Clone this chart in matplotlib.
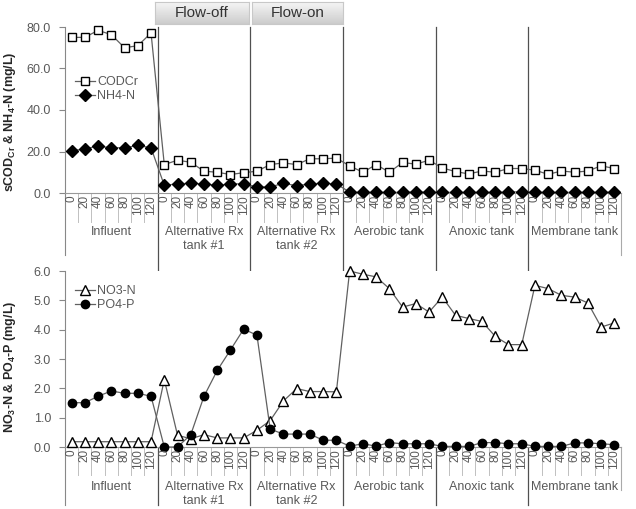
import matplotlib.pyplot as plt
import matplotlib.transforms as mtransforms
import numpy as np

plt.rcParams['font.family'] = ['Liberation Sans', 'DejaVu Sans']
plt.rcParams['mathtext.fontset'] = 'custom'
plt.rcParams['mathtext.rm'] = 'Liberation Sans:bold'
plt.rcParams['mathtext.default'] = 'rm'

# sampling times (min) within each unit, and the units
times = ['0', '20', '40', '60', '80', '100', '120']
groups = ['Influent', 'Alternative Rx\ntank #1', 'Alternative Rx\ntank #2',
          'Aerobic tank', 'Anoxic tank', 'Membrane tank']
flow_labels = ['Flow-off', 'Flow-on']

codcr = [75.0, 75.0, 78.4, 76.3, 70.0, 71.0, 77.1,
         13.7, 15.8, 14.8, 10.5, 10.0, 8.9, 9.8,
         10.5, 13.7, 14.5, 13.7, 16.5, 16.5, 16.8,
         13.1, 10.0, 13.7, 10.0, 14.7, 13.9, 15.8,
         12.1, 10.3, 9.2, 10.6, 10.0, 11.8, 11.8,
         11.0, 9.0, 10.6, 10.0, 10.6, 13.1, 11.8]
nh4 = [20.3, 21.3, 22.6, 21.8, 21.8, 22.9, 21.8,
       3.7, 4.4, 4.7, 4.4, 3.7, 4.4, 4.4,
       2.9, 2.9, 4.7, 3.5, 4.4, 4.7, 4.4,
       0.4, 0.3, 0.3, 0.3, 0.3, 0.5, 0.4,
       0.3, 0.3, 0.3, 0.3, 0.3, 0.4, 0.6,
       0.3, 0.3, 0.3, 0.3, 0.3, 0.4, 0.3]
no3 = [0.18, 0.18, 0.18, 0.18, 0.18, 0.18, 0.18,
       2.3, 0.4, 0.28, 0.42, 0.31, 0.31, 0.31,
       0.57, 0.9, 1.57, 1.99, 1.89, 1.89, 1.88,
       6.0, 5.89, 5.8, 5.4, 4.77, 4.89, 4.6,
       5.11, 4.49, 4.38, 4.28, 3.77, 3.49, 3.49,
       5.51, 5.4, 5.17, 5.11, 4.91, 4.09, 4.23]
po4 = [1.51, 1.51, 1.73, 1.91, 1.83, 1.83, 1.73,
       0.0, 0.0, 0.42, 1.73, 2.61, 3.31, 4.02,
       3.81, 0.61, 0.44, 0.44, 0.44, 0.23, 0.23,
       0.03, 0.11, 0.03, 0.15, 0.11, 0.11, 0.11,
       0.02, 0.02, 0.02, 0.15, 0.15, 0.11, 0.11,
       0.02, 0.02, 0.02, 0.14, 0.14, 0.11, 0.08]

W, H = 636, 509
X0, X1 = 65, 621
GRAY = '#595959'
LINE = '#606060'

fig = plt.figure(figsize=(W / 100, H / 100), dpi=100)


def fx(px):
    return px / W


def fy(py):
    return 1 - py / H


nt = len(times)
ncat = nt * len(groups)
x = np.arange(ncat)


def panel(ptop, pbot, ymax, step, series, label_y, leg_top,
          cell_end, axis_end, right_end):
    ax = fig.add_axes([fx(X0), fy(pbot), fx(X1) - fx(X0), fy(ptop) - fy(pbot)])
    for vals, mk, ms, filled, name in series:
        ax.plot(x, vals, color=LINE, lw=0.9, marker=mk, ms=ms,
                mfc='black' if filled else 'white', mec='black', mew=1.0,
                label=name, clip_on=False, zorder=3)
    ax.set_xlim(-0.5, ncat - 0.5)
    ax.set_ylim(0, ymax)
    ticks = np.arange(0, ymax + step / 2, step)
    ax.set_yticks(ticks)
    ax.set_yticklabels([f'{v:.1f}' for v in ticks])
    ax.tick_params(axis='y', length=4, width=0.8, color='#888888', pad=6,
                   labelsize=9, labelcolor=GRAY)
    ax.set_xticks([])
    for s in ['top', 'right', 'left']:
        ax.spines[s].set_visible(False)
    ax.spines['bottom'].set_color('#999999')
    ax.spines['bottom'].set_linewidth(0.8)

    tr = mtransforms.blended_transform_factory(ax.transData, fig.transFigure)
    # left axis line, running down through the category labels
    ax.plot([-0.5, -0.5], [fy(ptop), fy(axis_end)], transform=tr, color='#888888',
            lw=0.8, clip_on=False)
    ax.plot([ncat - 0.5, ncat - 0.5], [fy(pbot), fy(right_end)], transform=tr,
            color='#aaaaaa', lw=0.8, clip_on=False)
    for k in range(ncat - 1):
        if (k + 1) % nt:
            ax.plot([k + 0.5, k + 0.5], [fy(pbot), fy(cell_end)], transform=tr,
                    color='#c0c0c0', lw=0.7, clip_on=False)
    for k in range(ncat):
        ax.text(k, fy(pbot + 2), times[k % nt], transform=tr, rotation=90,
                ha='center', va='top', fontsize=8.5, color=GRAY)
    for g, name in enumerate(groups):
        xc = g * nt + (nt - 1) / 2
        for j, line in enumerate(name.split('\n')):
            ax.text(xc, fy(label_y + 14 * j), line, transform=tr, ha='center',
                    va='center', fontsize=9, color=GRAY)

    leg = ax.legend(loc='upper left',
                    bbox_to_anchor=(fx(75 - X0) / fx(X1 - X0),
                                    (pbot - leg_top) / (pbot - ptop)),
                    frameon=False, fontsize=9, handlelength=1.6,
                    handletextpad=0.15, labelspacing=0.15, borderpad=0,
                    borderaxespad=0, numpoints=1)
    for t in leg.get_texts():
        t.set_color(GRAY)
    return ax


ax1 = panel(27, 193, 80, 20,
            [(codcr, 's', 5.5, False, 'CODCr'), (nh4, 'D', 6, True, 'NH4-N')],
            232, 76, 222, 255, 255)
ax2 = panel(271, 447, 6, 1,
            [(no3, '^', 7, False, 'NO3-N'), (po4, 'o', 6, True, 'PO4-P')],
            487, 285, 475, 505, 490)

fig.text(fx(10), fy(122), r'sCOD$_{Cr}$ & NH$_4$-N (mg/L)', rotation=90,
         ha='center', va='center', fontsize=9, fontweight='bold', color='#262626')
fig.text(fx(10), fy(367), r'NO$_3$-N & PO$_4$-P (mg/L)', rotation=90,
         ha='center', va='center', fontsize=9, fontweight='bold', color='#262626')

# group separators across both panels
trf = mtransforms.blended_transform_factory(ax1.transData, fig.transFigure)
for g in range(1, len(groups)):
    xb = g * nt - 0.5
    ax1.plot([xb, xb], [fy(27), fy(505)], transform=trf, color='#505050',
             lw=0.9, clip_on=False)

# flow-off / flow-on header boxes
grad = np.linspace(0.96, 0.80, 50).reshape(-1, 1)
for (l, r), name in zip([(155, 249), (252, 343)], flow_labels):
    bx = fig.add_axes([fx(l), fy(24), fx(r) - fx(l), fy(2) - fy(24)])
    bx.imshow(grad, cmap='gray', vmin=0, vmax=1, aspect='auto',
              extent=[0, 1, 0, 1])
    bx.set_xticks([])
    bx.set_yticks([])
    for s in bx.spines.values():
        s.set_color('#c8c8c8')
        s.set_linewidth(0.8)
    bx.text(0.5, 0.5, name, ha='center', va='center', fontsize=11,
            color='#333333', transform=bx.transAxes)

fig.savefig('out.png', dpi=100)
